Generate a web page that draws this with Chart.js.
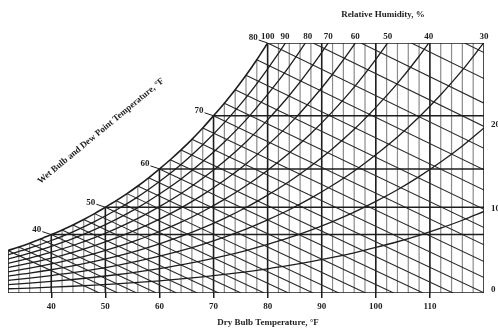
<!DOCTYPE html>
<html><head><meta charset="utf-8">
<script src="https://cdn.jsdelivr.net/npm/chart.js@4.4.1/dist/chart.umd.min.js"></script>
<style>html,body{margin:0;padding:0;background:#fff;}canvas{display:block;}</style>
</head><body>
<canvas id="c" width="498" height="330"></canvas>
<script>
// ---- data (dry bulb °F, humidity ratio g/kg) ----
const dryBulbTicks = [40, 50, 60, 70, 80, 90, 100, 110];
const dryBulbLines = [32,34,36,38,40,42,44,46,48,50,52,54,56,58,60,62,64,66,68,70,72,74,76,78,80,82,84,86,88,90,92,94,96,98,100,102,104,106,108,110,112,114,116,118,120];
const frameLines = [32, 120];
const satTemps = [32,34,36,38,40,42,44,46,48,50,52,54,56,58,60,62,64,66,68,70,72,74,76,78,80];
const satW = [3.777,4.089,4.428,4.796,5.194,5.608,6.055,6.539,7.061,7.626,8.211,8.840,9.519,10.251,11.040,11.854,12.728,13.668,14.679,15.766,16.885,18.085,19.373,20.755,22.239];
const maxW = 22.239;

const rhTemps = [32,36,40,44,48,52,56,60,64,68,72,76,80,84,88,92,96,100,104,108,112,116,120];
const rh90 = [3.397,3.983,4.671,5.445,6.348,7.380,8.554,9.919,11.432,13.180,15.156,17.381,19.944,22.770,26.011];
const rh80 = [3.018,3.538,4.148,4.835,5.636,6.551,7.592,8.801,10.141,11.688,13.435,15.402,17.665,20.158,23.015,26.222];
const rh70 = [2.639,3.093,3.627,4.226,4.926,5.725,6.633,7.687,8.855,10.203,11.724,13.436,15.402,17.567,20.045,22.824,25.935];
const rh60 = [2.261,2.650,3.106,3.619,4.218,4.900,5.677,6.577,7.575,8.725,10.022,11.481,13.155,14.997,17.103,19.461,22.098,25.107];
const rh50 = [1.883,2.206,2.586,3.013,3.511,4.078,4.723,5.472,6.299,7.254,8.330,9.538,10.924,12.447,14.187,16.134,18.307,20.782,23.483];
const rh40 = [1.505,1.764,2.067,2.408,2.805,3.258,3.773,4.370,5.029,5.790,6.646,7.607,8.709,9.918,11.298,12.840,14.560,16.516,18.646,21.060,23.741];
const rh30 = [1.128,1.322,1.549,1.804,2.102,2.441,2.826,3.271,3.764,4.332,4.971,5.688,6.509,7.409,8.435,9.581,10.856,12.305,13.880,15.662,17.638,19.822,22.286];
const rh20 = [0.752,0.881,1.032,1.202,1.400,1.625,1.881,2.177,2.505,2.881,3.305,3.780,4.324,4.920,5.598,6.354,7.195,8.150,9.185,10.355,11.648,13.076,14.682];
const rh10 = [0.376,0.440,0.516,0.600,0.699,0.811,0.939,1.087,1.250,1.437,1.648,1.884,2.155,2.450,2.787,3.161,3.577,4.048,4.559,5.135,5.770,6.470,7.256];

const wetBulbTemps = [32,34,36,38,40,42,44,46,48,50,52,54,56,58,60,62,64,66,68,70,72,74,76,78,80,82,84,86,88];
const wbStartT = [32,34,36,38,40,42,44,46,48,50,52,54,56,58,60,62,64,66,68,70,72,74,76,78,80,88.40,97.25,106.57,116.40];
const wbStartW = [3.777,4.089,4.428,4.796,5.194,5.608,6.055,6.539,7.061,7.626,8.211,8.840,9.519,10.251,11.040,11.854,12.728,13.668,14.679,15.766,16.885,18.085,19.373,20.755,22.239,22.239,22.239,22.239,22.239];
const wbEndT = [48.92,52.30,55.80,59.42,63.17,66.99,70.96,75.08,79.37,83.85,88.40,93.15,98.12,103.31,108.74,114.28,120.08,120,120,120,120,120,120,120,120,120,120,120,120];
const wbEndW = [0,0,0,0,0,0,0,0,0,0,0,0,0,0,0,0,0,1.368,2.791,4.291,5.827,7.445,9.153,10.957,12.865,14.821,16.888,19.074,21.390];

const dewPoints = [40, 50, 60, 70, 80];
const dewPointW = [5.194, 7.626, 11.040, 15.766, 22.239];

const wbLabelTemps = [40, 50, 60, 70, 80];
const rhTopLabels = ['100','90','80','70','60','50','40','30'];
const rhTopT = [80, 83.2, 87.4, 91.2, 96.2, 102.2, 109.8, 120];
const rhRightLabels = ['20','10','0'];
const rhRightW = [14.682, 7.256, 0];

const topTitle = 'Relative Humidity, %';
const leftTitle = 'Wet Bulb and Dew Point Temperature, °F';
const xTitle = 'Dry Bulb Temperature, °F';

// ---- build datasets ----
const INK = '#1e1e1e';
function topOf(t){ const i = satTemps.indexOf(t); return i >= 0 ? satW[i] : maxW; }
const thin = [], major = [];
dryBulbLines.forEach(t => {
  const target = (dryBulbTicks.includes(t) || frameLines.includes(t)) ? major : thin;
  target.push({x:t, y:0}, {x:t, y:topOf(t)}, {x:t, y:null});
});
const wb = [];
wetBulbTemps.forEach((t, i) => {
  wb.push({x:wbStartT[i], y:wbStartW[i]}, {x:wbEndT[i], y:wbEndW[i]}, {x:wbEndT[i], y:null});
});
const dp = [];
dewPoints.forEach((t, i) => {
  dp.push({x:t, y:dewPointW[i]}, {x:120, y:dewPointW[i]}, {x:120, y:null});
});
const bottom = [{x:32, y:0}, {x:120, y:0}];

function segSet(data, color, width){
  return {data, borderColor:color, borderWidth:width, pointRadius:0, tension:0, spanGaps:false, fill:false};
}
function curve(vals, width){
  return {data: vals.map((v, i) => ({x: rhTemps[i], y: v})), borderColor: INK, borderWidth: width,
    pointRadius:0, cubicInterpolationMode:'monotone', capBezierPoints:false, fill:false};
}
const datasets = [
  curve(rh10, 1.3), curve(rh20, 1.3), curve(rh30, 1.3), curve(rh40, 1.3), curve(rh50, 1.3),
  curve(rh60, 1.3), curve(rh70, 1.3), curve(rh80, 1.3), curve(rh90, 1.3),
  {data: satTemps.map((t, i) => ({x:t, y:satW[i]})), borderColor: INK, borderWidth:1.6, pointRadius:0,
    cubicInterpolationMode:'monotone', capBezierPoints:false, fill:false},
  segSet(bottom, INK, 1.6),
  segSet(dp, INK, 1.5),
  segSet(wb, '#2a2a2a', 1.1),
  segSet(major, INK, 1.6),
  segSet(thin, '#8c8c8c', 1.2)
];

const SERIF = '"Liberation Serif", "Times New Roman", serif';
const textPlugin = {
  id: 'texts',
  afterDraw(chart){
    const {ctx, chartArea:a} = chart;
    const x = chart.scales.x, y = chart.scales.y;
    ctx.save();
    ctx.fillStyle = INK; ctx.strokeStyle = INK;
    ctx.font = 'bold 9px ' + SERIF;
    ctx.textAlign = 'center'; ctx.textBaseline = 'middle';
    ctx.fillText(topTitle, a.right - 101, 15);
    ctx.fillText(xTitle, a.left + 260, 323);
    rhTopLabels.forEach((s, i) => ctx.fillText(s, x.getPixelForValue(rhTopT[i]), a.top - 6));
    ctx.textAlign = 'left';
    rhRightLabels.forEach((s, i) => ctx.fillText(s, a.right + 7, y.getPixelForValue(rhRightW[i]) - 3));
    ctx.textAlign = 'right'; ctx.lineWidth = 1;
    wbLabelTemps.forEach(t => {
      const px = x.getPixelForValue(t), py = y.getPixelForValue(satW[satTemps.indexOf(t)]);
      ctx.beginPath(); ctx.moveTo(px - 9, py - 3); ctx.lineTo(px, py); ctx.stroke();
      ctx.fillText(String(t), px - 10, py - 5);
    });
    ctx.translate(101, 131);
    ctx.rotate(-39.5 * Math.PI / 180);
    ctx.textAlign = 'center';
    ctx.fillText(leftTitle, 0, 0);
    ctx.restore();
  }
};

new Chart(document.getElementById('c'), {
  type: 'line',
  data: { datasets },
  options: {
    responsive: false, animation: false, events: [],
    layout: { padding: { left: 8, right: 14, top: 43, bottom: 0 } },
    plugins: { legend: {display:false}, tooltip: {enabled:false} },
    scales: {
      x: {
        type: 'linear', min: 32, max: 120, position: 'bottom',
        afterBuildTicks: s => { s.ticks = dryBulbTicks.map(v => ({value: v})); },
        afterFit: s => { s.height = 37; },
        grid: { drawOnChartArea: false, drawTicks: true, tickLength: 5, color: INK, lineWidth: 1.5 },
        border: { display: false },
        ticks: { font: {family: SERIF, size: 9, weight: 'bold'}, color: INK, padding: 3, maxRotation: 0, autoSkip: false },
        title: { display: false }
      },
      y: { type: 'linear', min: 0, max: maxW, display: false }
    }
  },
  plugins: [textPlugin]
});
</script>
</body></html>
